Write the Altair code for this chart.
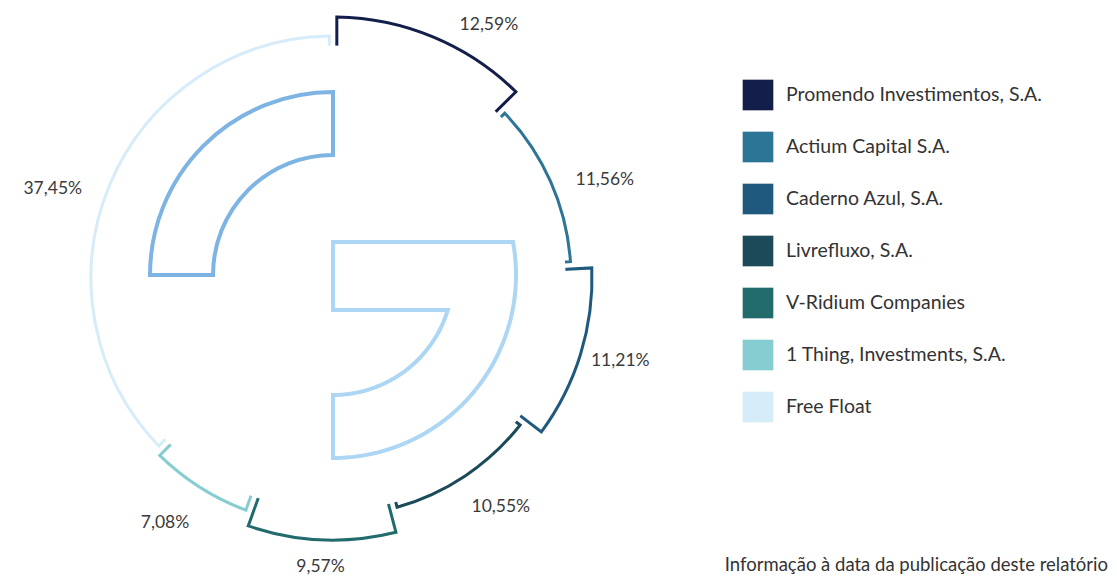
import altair as alt
import pandas as pd
import numpy as np

# ---------------- data ----------------
names = ["Promendo Investimentos, S.A.", "Actium Capital S.A.", "Caderno Azul, S.A.",
         "Livrefluxo, S.A.", "V-Ridium Companies", "1 Thing, Investments, S.A.", "Free Float"]
shares = [12.59, 11.56, 11.21, 10.55, 9.57, 7.08, 37.45]
labels = ["12,59%", "11,56%", "11,21%", "10,55%", "9,57%", "7,08%", "37,45%"]
footer = "Informação à data da publicação deste relatório"

# ---------------- style ----------------
colors = ["#131f4a", "#2d7597", "#1f5a7e", "#1c4a58", "#216b6d", "#86cdd1", "#d6ecf8"]
outer_r = [261, 238, 259, 238, 262, 248, 242]
inner_r = 230
label_r = [297, 289, 299, 284, 289, 297, 294]
label_shift_deg = [9, 4, -1, -2.5, 0, 2, -5]
CX, CY = 325, 270          # ring centre (plot px)
GX, GY = 325, 267          # logo centre (plot px)
G_OUT, G_IN = 183, 120     # logo radii
G_TOP, G_BAR = -33, 35     # logo bar offsets
FONT = "Lato"

total = float(sum(shares))
cum = np.cumsum(shares)
start = (cum - np.array(shares)) / total * 2 * np.pi
end = cum / total * 2 * np.pi
df = pd.DataFrame({
    "name": names, "share": shares, "label": labels,
    "start": start, "end": end,
    "outer": outer_r, "inner": [inner_r] * len(names),
    "lr": label_r, "lt": (start + end) / 2 + np.radians(label_shift_deg),
})

cscale = alt.Scale(domain=names, range=colors)

ring = alt.Chart(df).mark_arc(filled=False, strokeWidth=3, padAngle=0.022).encode(
    theta=alt.Theta("start:Q", scale=None), theta2="end:Q",
    radius=alt.Radius("outer:Q", scale=None), radius2="inner:Q",
    color=alt.Color("name:N", scale=cscale, legend=None),
    x=alt.value(CX), y=alt.value(CY),
)

one = pd.DataFrame({"k": [0]})
mask = alt.Chart(one).mark_arc(
    color="white", theta=0.0, theta2=float(2 * np.pi),
    radius=inner_r + 2.6, radius2=inner_r - 3.5,
).encode(x=alt.value(CX), y=alt.value(CY))

g_left = alt.Chart(one).mark_arc(
    filled=False, stroke="#7db4e3", strokeWidth=4,
    theta=float(1.5 * np.pi), theta2=float(2 * np.pi), radius=G_OUT, radius2=G_IN,
).encode(x=alt.value(GX), y=alt.value(GY))

a1 = np.arctan2(np.sqrt(G_OUT ** 2 - G_TOP ** 2), -G_TOP)
a2 = np.arctan2(np.sqrt(G_IN ** 2 - G_BAR ** 2), -G_BAR)
oa = np.linspace(a1, np.pi, 80)
ia = np.linspace(np.pi, a2, 50)
gx = [0, 0] + list(G_OUT * np.sin(oa)) + list(G_IN * np.sin(ia)) + [0, 0]
gy = [0, G_TOP] + list(-G_OUT * np.cos(oa)) + list(-G_IN * np.cos(ia)) + [G_BAR, 0]
gdf = pd.DataFrame({"x": np.array(gx) + GX, "y": np.array(gy) + GY, "i": range(len(gx))})
g_right = alt.Chart(gdf).mark_line(color="#acd6f4", strokeWidth=4, strokeJoin="miter").encode(
    x=alt.X("x:Q", scale=None), y=alt.Y("y:Q", scale=None), order="i:Q"
)

pct = alt.Chart(df).mark_text(font=FONT, fontSize=17.5, color="#3a3a3a").encode(
    theta=alt.Theta("lt:Q", scale=None), radius=alt.Radius("lr:Q", scale=None),
    text="label:N", x=alt.value(CX), y=alt.value(CY),
)

left = alt.layer(ring, mask, g_left, g_right, pct).properties(width=700, height=568)

leg = pd.DataFrame({"name": names})
yenc = alt.Y("name:N", sort=names, axis=None, scale=alt.Scale(range=[87, 399], padding=0))
sq = alt.Chart(leg).mark_square(size=940, opacity=1).encode(
    x=alt.value(50), y=yenc, color=alt.Color("name:N", scale=cscale, legend=None)
)
tx = alt.Chart(leg).mark_text(align="left", baseline="middle", font=FONT, fontSize=19.5, color="#333333").encode(
    x=alt.value(78), y=yenc, text="name:N"
)
ft = alt.Chart(pd.DataFrame({"t": [footer]})).mark_text(
    align="right", baseline="bottom", font=FONT, fontSize=18.5, color="#333333"
).encode(x=alt.value(400), y=alt.value(567), text="t:N")

right = alt.layer(sq, tx, ft).properties(width=401, height=568)

chart = alt.hconcat(left, right, spacing=0).properties(padding=0).configure_view(stroke=None)
chart.save("out.html", embed_options={"renderer": "svg", "actions": False})
